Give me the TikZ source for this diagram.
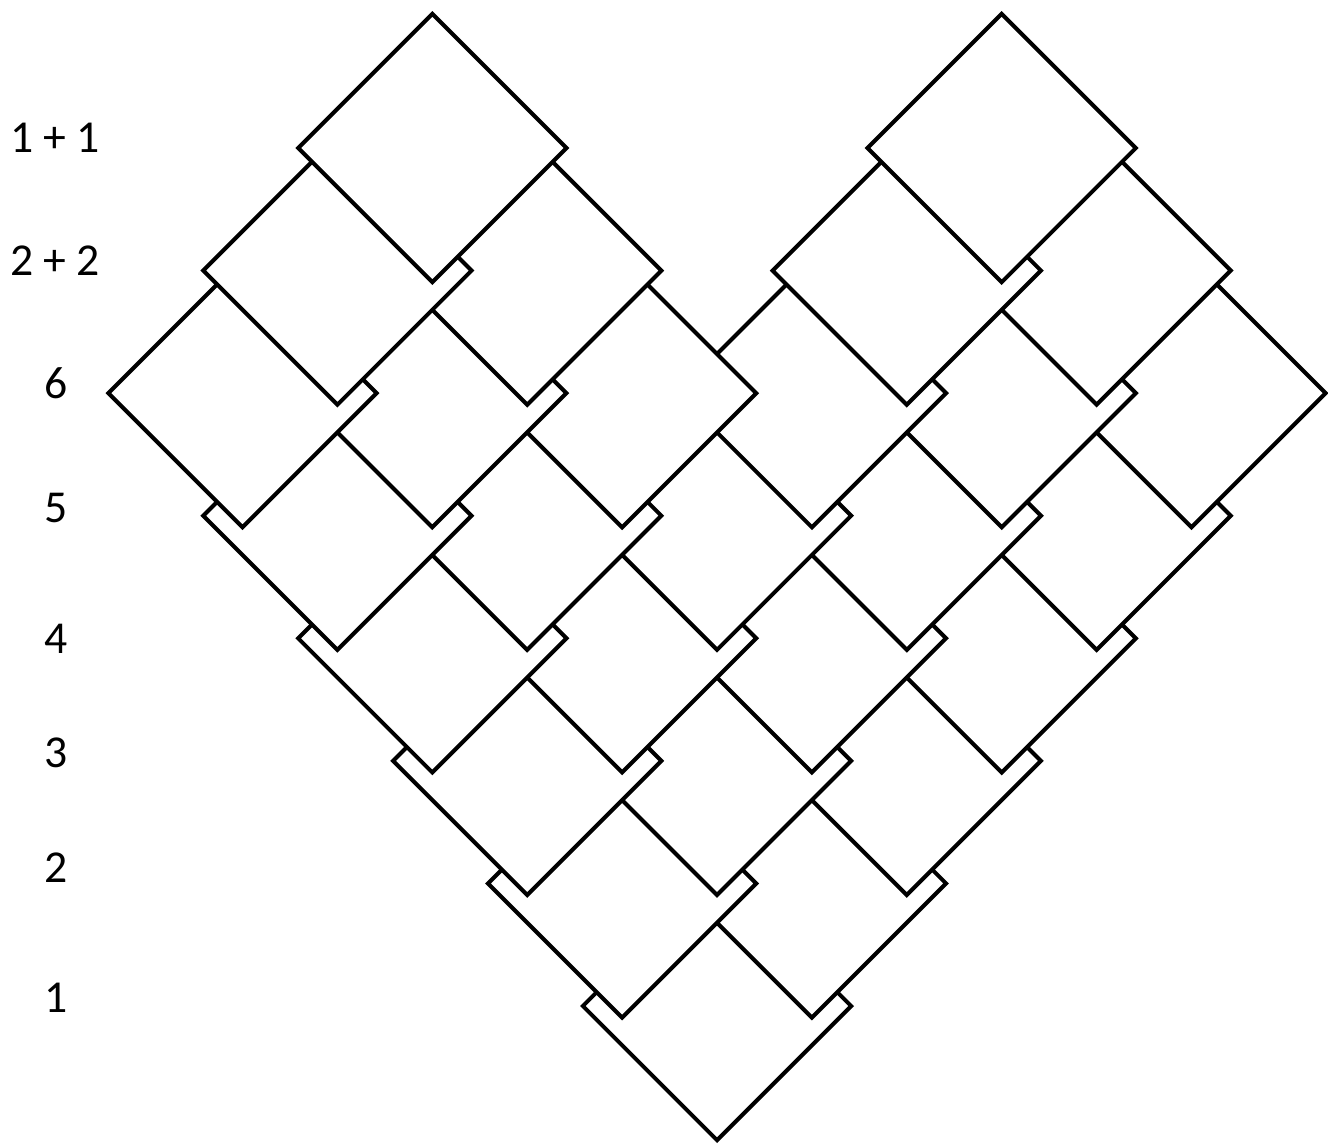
\documentclass[tikz,border=0pt]{standalone}
\usepackage{fontspec}
\setmainfont{Carlito}
\usetikzlibrary{shapes.geometric}
\tikzset{
  tile/.style={diamond, draw=black, fill=white, minimum width=5.4cm,
    minimum height=5.4cm, inner sep=0pt, line width=2.3pt},
  rowlabel/.style={anchor=base, font=\fontsize{26}{31}\selectfont, text=black}
}

\begin{document}
\begin{tikzpicture}[x=0.02cm, y=-0.02cm]
  \useasboundingbox (0,0) rectangle (1328,1144);

  % tiles, bottom row first, each row from right to left
  \foreach \r/\cols in {7/{0}, 6/{1,-1}, 5/{2,0,-2}, 4/{3,1,-1,-3},
      3/{4,2,0,-2,-4}, 2/{5,3,1,-1,-3,-5}, 1/{4,2,-2,-4}, 0/{3,-3}}
    \foreach \c in \cols
      \node[tile] (t\r\c) at ({717+94.9*\c}, {148+122.57*\r}) {};

  % row labels
  \node[rowlabel] (lbltop) at (55,152) {1 + 1};
  \node[rowlabel] (lbltwo) at (55,275) {2 + 2};
  \node[rowlabel] (lbl6) at (56,398) {6};
  \node[rowlabel] (lbl5) at (56,522) {5};
  \node[rowlabel] (lbl4) at (56,653) {4};
  \node[rowlabel] (lbl3) at (56,767) {3};
  \node[rowlabel] (lbl2) at (56,882) {2};
  \node[rowlabel] (lbl1) at (56,1012) {1};
\end{tikzpicture}
\end{document}
